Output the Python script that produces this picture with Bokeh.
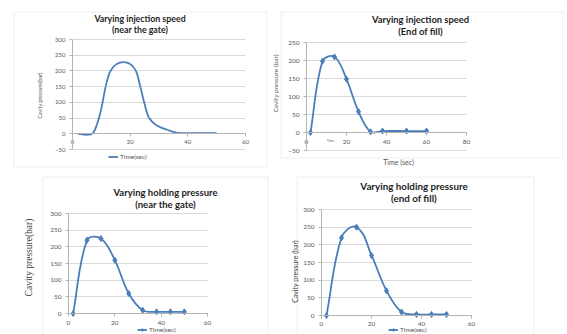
import math
from bokeh.plotting import figure
from bokeh.models import (Label, BoxAnnotation, Legend, LegendItem, FixedTicker,
                          Range1d)
from bokeh.layouts import row, column
from bokeh.embed import file_html
from bokeh.resources import INLINE

FONT = "Lato"
BLUE = "#4a7ebb"
GRID = "#d9d9d9"
AXIS = "#b4b4b4"
FRAME = "#c8c8c8"
TICKC = "#595959"
TITLEC = "#1e1e1e"
NAN = float("nan")

# ---------------- data ----------------
# Chart 1: varying injection speed, near the gate (smooth line, no markers)
c1_time = [2, 5, 7, 8.5, 10, 11.5, 13, 15, 17.5, 20, 22, 23.5, 25, 26.5, 29, 33, 36, 40, 50]
c1_pressure = [0, -3, 1, 30, 80, 150, 197, 220, 228, 222, 200, 150, 95, 52, 28, 12, 4, 2, 2]

# Chart 2: varying injection speed, end of fill
c2_time = [2, 8, 14, 20, 26, 32, 38, 50, 60]
c2_pressure = [0, 198, 210, 148, 58, 2, 4, 4, 4]

# Chart 3: varying holding pressure, near the gate
c3_time = [2, 8, 14, 20, 26, 32, 38, 44, 50]
c3_pressure = [0, 220, 225, 160, 60, 10, 5, 5, 5]

# Chart 4: varying holding pressure, end of fill
c4_time = [2, 8, 14, 20, 26, 32, 38, 44, 50]
c4_pressure = [0, 220, 250, 170, 70, 10, 3, 3, 3]

x_ticks_60 = [0, 20, 40, 60]
x_ticks_80 = [0, 20, 40, 60, 80]
y_ticks_a = [-50, 0, 50, 100, 150, 200, 250, 300]
y_ticks_b = [-50, 0, 50, 100, 150, 200, 250]
y_ticks_c = [0, 50, 100, 150, 200, 250, 300]


class Chart:
    def __init__(self, X0, Y0, W, H, xpix, xdat, ypix, ydat, xt, yt, box,
                 tick_size=6.5, x_standoff=3):
        self.X0, self.Y0 = X0, Y0
        (px0, px1), (x0, x1) = xpix, xdat
        (pyt, pyb), (yt_, yb_) = ypix, ydat
        bx = (px1 - px0) / (x1 - x0)
        by = (pyb - pyt) / (yt_ - yb_)
        self.bx, self.by = bx, by
        xr = (x0 + (X0 - px0) / bx, x0 + (X0 + W - px0) / bx)
        yr = (yb_ - (Y0 + H - pyb) / by, yt_ + (pyt - Y0) / by)
        p = figure(width=W, height=H, x_range=Range1d(*xr), y_range=Range1d(*yr),
                   output_backend="svg", toolbar_location=None,
                   min_border_left=0, min_border_right=0,
                   min_border_top=0, min_border_bottom=0)
        p.title.visible = False
        p.outline_line_color = None
        p.background_fill_color = "white"
        p.border_fill_color = "white"
        p.xaxis.ticker = FixedTicker(ticks=xt)
        p.yaxis.ticker = FixedTicker(ticks=yt)
        p.xgrid.grid_line_color = None
        p.ygrid.grid_line_color = GRID
        try:
            p.ygrid.cross_bounds = (x0, x1)
        except Exception:
            p.ygrid.visible = False
            p.segment(x0=[x0] * len(yt), x1=[x1] * len(yt), y0=yt, y1=yt,
                      line_color=GRID, line_width=1, level="underlay")
        for ax in (p.xaxis, p.yaxis):
            ax.axis_line_color = AXIS
            ax.major_tick_line_color = AXIS
            ax.major_tick_in = 0
            ax.major_tick_out = 3
            ax.minor_tick_line_color = None
            ax.major_label_text_font = FONT
            ax.major_label_text_font_size = f"{tick_size}px"
            ax.major_label_text_color = TICKC
        p.xaxis.major_label_standoff = int(x_standoff)
        p.yaxis.major_label_standoff = 4
        p.xaxis.fixed_location = 0
        p.xaxis.bounds = (x0, x1)
        p.yaxis.fixed_location = x0
        p.yaxis.bounds = (yb_, yt_)
        bl, bt, br, bb = box
        p.add_layout(BoxAnnotation(left=bl - X0 + 0.5, right=br - X0 + 0.5,
                                   top=bt - Y0 + 0.5, bottom=bb - Y0 + 0.5,
                                   left_units="canvas", right_units="canvas",
                                   top_units="canvas", bottom_units="canvas",
                                   fill_color=None, fill_alpha=0, line_color=FRAME,
                                   line_width=1, level="underlay"))
        self.p = p

    def smooth(self, xs, ys, k=1.0 / 3.0):
        """Bezier control points of a 'smoothed line' (computed in pixel space)."""
        bx, by = self.bx, self.by
        P = [(x * bx, y * by) for x, y in zip(xs, ys)]
        n = len(P)
        tang = []
        for i in range(n):
            a = P[max(i - 1, 0)]
            b = P[min(i + 1, n - 1)]
            dx, dy = b[0] - a[0], b[1] - a[1]
            L = math.hypot(dx, dy) or 1.0
            tang.append((dx / L, dy / L))
        d = dict(x0=[], y0=[], x1=[], y1=[], cx0=[], cy0=[], cx1=[], cy1=[])
        for i in range(n - 1):
            seg = math.hypot(P[i + 1][0] - P[i][0], P[i + 1][1] - P[i][1])
            h = seg * k
            c0 = (P[i][0] + tang[i][0] * h, P[i][1] + tang[i][1] * h)
            c1 = (P[i + 1][0] - tang[i + 1][0] * h, P[i + 1][1] - tang[i + 1][1] * h)
            d["x0"].append(xs[i]); d["y0"].append(ys[i])
            d["x1"].append(xs[i + 1]); d["y1"].append(ys[i + 1])
            d["cx0"].append(c0[0] / bx); d["cy0"].append(c0[1] / by)
            d["cx1"].append(c1[0] / bx); d["cy1"].append(c1[1] / by)
        return d

    def text(self, x, y, text, size, color=TITLEC, bold=False, angle=0.0, font=FONT):
        self.p.add_layout(Label(x=x - self.X0, y=y - self.Y0, x_units="canvas",
                                y_units="canvas", text=text, text_font=font,
                                text_font_size=f"{size}px", text_color=color,
                                text_font_style="bold" if bold else "normal",
                                text_align="center", text_baseline="middle",
                                angle=angle))

    def series(self, xs, ys, markers):
        p = self.p
        p.bezier(source=self.smooth(xs, ys), x0="x0", y0="y0", x1="x1", y1="y1",
                 cx0="cx0", cy0="cy0", cx1="cx1", cy1="cy1",
                 line_color=BLUE, line_width=1.8)
        proxy = p.line(x=[NAN, NAN], y=[NAN, NAN], line_color=BLUE, line_width=1.8)
        rs = [proxy]
        if markers:
            rs.append(p.scatter(xs, ys, marker="diamond", size=6,
                                fill_color=BLUE, line_color=BLUE))
        return rs

    def legend(self, rs, x_left, y_center, size=6.5):
        p = self.p
        H = p.height
        vx = x_left - self.X0
        vy = H - (y_center - self.Y0) - 3.5
        leg = Legend(items=[LegendItem(label="Time(sec)", renderers=rs)],
                     location=(vx, vy), border_line_color=None,
                     background_fill_alpha=0, padding=0, margin=0, spacing=0,
                     label_standoff=2, glyph_width=10, glyph_height=7,
                     label_height=7, label_text_font=FONT,
                     label_text_font_size=f"{size}px", label_text_color=TICKC)
        p.add_layout(leg)


# ---- chart 1 ----
c1 = Chart(0, 0, 270, 170, (72, 245), (0, 60), (39, 149), (300, -50),
           x_ticks_60, y_ticks_a, (13, 11, 266, 166), tick_size=6, x_standoff=3)
r1 = c1.series(c1_time, c1_pressure, False)
c1.text(139.5, 18, "Varying injection speed", 8.8, bold=True)
c1.text(139.5, 28.5, "(near the gate)", 8.8, bold=True)
c1.text(39, 95, "Cavity pressure(bar)", 5.3, color=TICKC, angle=math.pi / 2)
c1.legend(r1, 108, 156)

# ---- chart 2 ----
c2 = Chart(270, 0, 297, 170, (306, 466), (0, 80), (42, 150), (250, -50),
           x_ticks_80, y_ticks_b, (280, 11, 562, 157), tick_size=6.5, x_standoff=4)
r2 = c2.series(c2_time, c2_pressure, True)
c2.text(420, 19, "Varying injection speed", 9.4, bold=True)
c2.text(420, 31, "(End of fill)", 9.4, bold=True)
c2.text(275, 83, "Cavity pressure (bar)", 6.5, color=TICKC, angle=math.pi / 2)
c2.text(398, 161, "Time (sec)", 7, color=TICKC)
c2.text(330, 140, "Time", 3.5, color=TICKC)

# ---- chart 3 ----
c3 = Chart(0, 170, 286, 164, (68, 207), (0, 60), (213, 313), (300, 0),
           x_ticks_60, y_ticks_c, (42, 176, 267, 400), tick_size=6.5, x_standoff=4)
r3 = c3.series(c3_time, c3_pressure, True)
c3.text(165, 192, "Varying holding pressure", 9.5, bold=True)
c3.text(165, 204, "(near the gate)", 9.5, bold=True)
c3.text(28, 257, "Cavity pressure(bar)", 9.5, color="#404040", angle=math.pi / 2,
        font="Liberation Serif")
c3.legend(r3, 137, 329.5)

# ---- chart 4 ----
c4 = Chart(286, 170, 281, 164, (321, 471), (0, 60), (209, 315), (300, 0),
           x_ticks_60, y_ticks_c, (296, 176, 533, 400), tick_size=6.5, x_standoff=3)
r4 = c4.series(c4_time, c4_pressure, True)
c4.text(413.5, 185, "Varying holding pressure", 9.8, bold=True)
c4.text(413.5, 197, "(end of fill)", 9.8, bold=True)
c4.text(294, 271, "Cavity pressure (bar)", 7, color="#404040", angle=math.pi / 2)
c4.legend(r4, 388, 329.5)

layout = column(row(c1.p, c2.p), row(c3.p, c4.p))
open("out.html", "w").write(file_html(layout, INLINE))
